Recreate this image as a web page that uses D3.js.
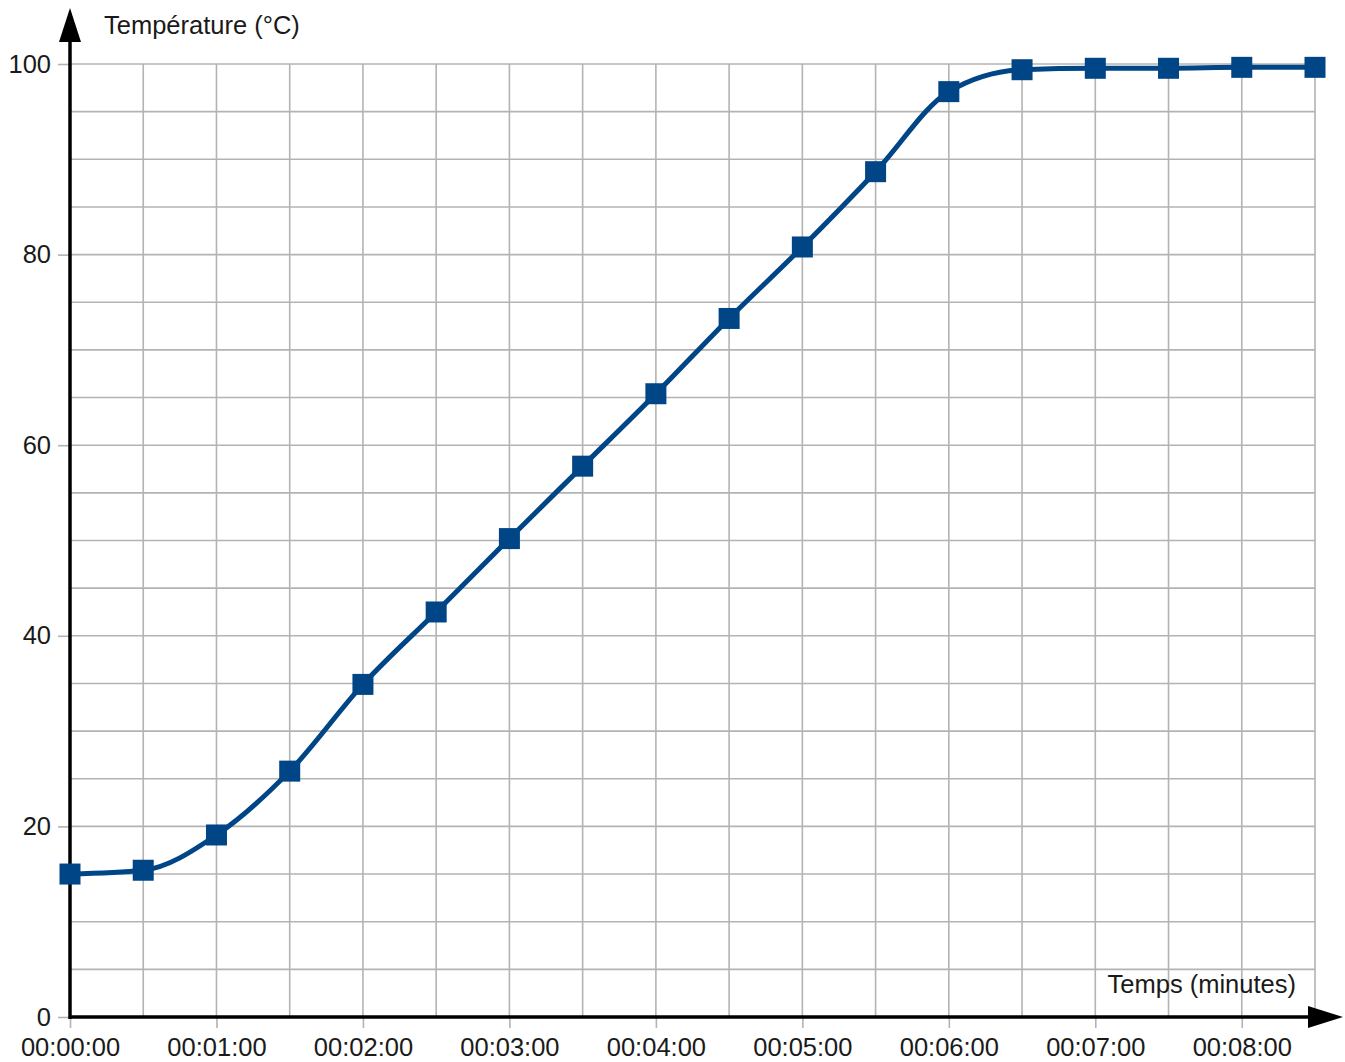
<!DOCTYPE html>
<html>
<head>
<meta charset="utf-8">
<script src="https://cdn.jsdelivr.net/npm/d3@7.9.0/dist/d3.min.js"></script>
<style>
  html, body { margin: 0; padding: 0; background: #fff; }
  svg { display: block; font-family: "Liberation Sans", Arial, sans-serif; }
</style>
</head>
<body>
<svg id="chart" width="1345" height="1062"></svg>
<script>
// time of each reading, in seconds
const times = [0, 30, 60, 90, 120, 150, 180, 210, 240, 270, 300, 330, 360, 390, 420, 450, 480, 510];
// temperature read at each time (°C)
const temps = [15.0, 15.4, 19.1, 25.8, 34.9, 42.5, 50.2, 57.8, 65.4, 73.3, 80.8, 88.7, 97.1, 99.4, 99.55, 99.55, 99.65, 99.65];
const xTicks = [0, 60, 120, 180, 240, 300, 360, 420, 480];
const yTicks = [0, 20, 40, 60, 80, 100];

const data = times.map((t, i) => ({ t, v: temps[i] }));

const margin = { top: 64, left: 70 };
const plotRight = 1315, plotBottom = 1017;
const fontSize = 25.5;

const svg = d3.select("#chart");

const x = d3.scaleLinear().domain([0, 510]).range([margin.left, plotRight]);
const y = d3.scaleLinear().domain([0, 100]).range([plotBottom, margin.top]);

const fmt = s => {
  const m = Math.floor(s / 60), sec = s % 60;
  return "00:" + String(m).padStart(2, "0") + ":" + String(sec).padStart(2, "0");
};

// grid
const grid = svg.append("g").attr("stroke", "#b3b3b3").attr("stroke-width", 1.6);
grid.selectAll("line.v")
  .data(d3.range(30, 511, 30))
  .enter().append("line")
  .attr("x1", d => x(d)).attr("x2", d => x(d))
  .attr("y1", y(100)).attr("y2", y(0));
grid.selectAll("line.h")
  .data(d3.range(5, 101, 5))
  .enter().append("line")
  .attr("x1", x(0)).attr("x2", x(510))
  .attr("y1", d => y(d)).attr("y2", d => y(d));

// y axis ticks + labels
const yAxis = svg.append("g")
  .attr("transform", `translate(${x(0)},0)`)
  .call(d3.axisLeft(y).tickValues(yTicks).tickSize(12).tickPadding(7).tickFormat(d3.format("d")));
yAxis.select(".domain").remove();
yAxis.selectAll(".tick line").attr("stroke", "#b3b3b3").attr("stroke-width", 1.6);
yAxis.selectAll(".tick text").attr("font-size", fontSize).attr("fill", "#1a1a1a")
  .attr("font-family", "Liberation Sans, Arial, sans-serif");

// x axis ticks + labels
const xAxis = svg.append("g")
  .attr("transform", `translate(0,${plotBottom})`)
  .call(d3.axisBottom(x).tickValues(xTicks).tickSize(11).tickPadding(10).tickFormat(fmt));
xAxis.select(".domain").remove();
xAxis.selectAll(".tick line").attr("stroke", "#b3b3b3").attr("stroke-width", 1.6);
xAxis.selectAll(".tick text").attr("font-size", fontSize).attr("fill", "#1a1a1a")
  .attr("font-family", "Liberation Sans, Arial, sans-serif");

// axis lines with arrows
svg.append("line")
  .attr("x1", x(0)).attr("x2", 1310)
  .attr("y1", plotBottom).attr("y2", plotBottom)
  .attr("stroke", "#000").attr("stroke-width", 3.5);
svg.append("path")
  .attr("d", `M1343,${plotBottom} L1308,${plotBottom - 11} L1308,${plotBottom + 11} Z`)
  .attr("fill", "#000");
svg.append("line")
  .attr("x1", x(0)).attr("x2", x(0))
  .attr("y1", plotBottom + 2).attr("y2", 40)
  .attr("stroke", "#000").attr("stroke-width", 3.5);
svg.append("path")
  .attr("d", `M${x(0)},8 L${x(0) - 11},42 L${x(0) + 11},42 Z`)
  .attr("fill", "#000");

// axis titles
svg.append("text")
  .attr("x", 104).attr("y", 34)
  .attr("font-size", fontSize).attr("fill", "#1a1a1a")
  .text("Température (°C)");
svg.append("text")
  .attr("x", 1296).attr("y", 993)
  .attr("text-anchor", "end")
  .attr("font-size", fontSize).attr("fill", "#1a1a1a")
  .text("Temps (minutes)");

// series
const line = d3.line()
  .x(d => x(d.t))
  .y(d => y(d.v))
  .curve(d3.curveMonotoneX);

svg.append("path")
  .datum(data)
  .attr("d", line)
  .attr("fill", "none")
  .attr("stroke", "#004586")
  .attr("stroke-width", 5);

const ms = 21;
svg.selectAll("rect.pt")
  .data(data)
  .enter().append("rect")
  .attr("class", "pt")
  .attr("x", d => x(d.t) - ms / 2)
  .attr("y", d => y(d.v) - ms / 2)
  .attr("width", ms).attr("height", ms)
  .attr("fill", "#004586");
</script>
</body>
</html>
